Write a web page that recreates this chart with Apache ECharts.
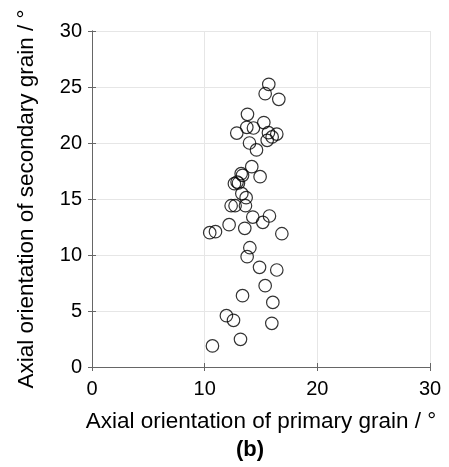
<!DOCTYPE html>
<html>
<head>
<meta charset="utf-8">
<script src="https://cdn.jsdelivr.net/npm/echarts@6/dist/echarts.min.js"></script>
<style>
html, body { margin: 0; padding: 0; background: #fff; }
#chart { width: 449px; height: 467px; }
</style>
</head>
<body>
<div id="chart"></div>
<script>
// primary grain / secondary grain orientation (deg)
var primary = [15.69, 15.37, 16.58, 13.80, 15.25, 13.74, 14.33, 12.85, 15.66, 16.40,
    15.99, 15.55, 13.98, 14.60, 14.18, 14.92, 13.24, 13.36, 12.64, 12.88,
    13.00, 13.30, 13.68, 12.35, 12.70, 13.62, 14.27, 15.75, 15.16, 12.17,
    13.56, 10.45, 10.96, 16.85, 14.01, 13.77, 14.87, 16.40, 15.37, 13.36,
    16.05, 11.93, 12.56, 15.96, 13.18, 10.69];
var secondary = [25.24, 24.40, 23.90, 22.56, 21.82, 21.40, 21.34, 20.89, 20.92, 20.80,
    20.54, 20.24, 20.00, 19.38, 17.89, 16.99, 17.26, 17.11, 16.37, 16.52,
    16.43, 15.48, 15.12, 14.40, 14.40, 14.40, 13.39, 13.48, 12.92, 12.71,
    12.38, 11.99, 12.08, 11.90, 10.65, 9.85, 8.90, 8.66, 7.26, 6.37,
    5.77, 4.58, 4.17, 3.90, 2.47, 1.88];

var pts = [];
for (var i = 0; i < primary.length; i++) {
    pts.push([primary[i], secondary[i]]);
}

var chart = echarts.init(document.getElementById('chart'));
var fnt = 'Liberation Sans, Arial, Helvetica, sans-serif';
var axisCol = '#666';

var baseAxis = {
    min: 0, max: 30, interval: 10,
    axisLine: { show: true, lineStyle: { color: axisCol, width: 1 } },
    axisTick: { show: true, inside: true, length: 4, lineStyle: { color: axisCol } }
};

chart.setOption({
    animation: false,
    title: {
        text: '(b)',
        left: 236,
        top: 439,
        padding: 0,
        textStyle: { fontFamily: fnt, fontSize: 22, fontWeight: 'bold', color: '#000' }
    },
    grid: { left: 92, top: 31, width: 338, height: 336 },
    xAxis: [
        Object.assign({}, baseAxis, {
            type: 'value',
            position: 'bottom',
            name: 'Axial orientation of primary grain / \u00b0',
            nameLocation: 'middle',
            nameGap: 43,
            nameTextStyle: { fontFamily: fnt, fontSize: 22.5, color: '#000' },
            axisLabel: { fontFamily: fnt, fontSize: 20, color: '#000', margin: 12 },
            splitLine: { show: true, lineStyle: { color: '#e6e6e6', width: 1 } }
        }),
        Object.assign({}, baseAxis, {
            type: 'value',
            position: 'top',
            axisLabel: { show: false },
            splitLine: { show: false }
        })
    ],
    yAxis: [
        Object.assign({}, baseAxis, {
            type: 'value',
            interval: 5,
            position: 'left',
            name: 'Axial orientation of secondary grain / \u00b0',
            nameLocation: 'middle',
            nameGap: 54,
            nameTextStyle: { fontFamily: fnt, fontSize: 22.5, color: '#000' },
            axisLabel: { fontFamily: fnt, fontSize: 20, color: '#000', margin: 10 },
            splitLine: { show: true, lineStyle: { color: '#e6e6e6', width: 1 } }
        }),
        Object.assign({}, baseAxis, {
            type: 'value',
            interval: 5,
            position: 'right',
            axisLabel: { show: false },
            splitLine: { show: false }
        })
    ],
    series: [{
        type: 'scatter',
        data: pts,
        symbol: 'circle',
        symbolSize: 12.5,
        itemStyle: { color: 'rgba(0,0,0,0)', borderColor: '#000', borderWidth: 1.2 }
    }]
});

window.onresize = function () {
    chart.resize();
};
</script>
</body>
</html>
